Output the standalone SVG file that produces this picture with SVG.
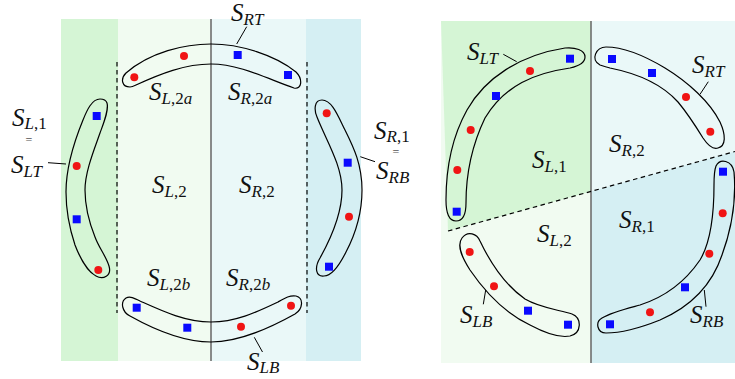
<svg xmlns="http://www.w3.org/2000/svg" width="735" height="379" viewBox="0 0 735 379">
<style>
.blob{fill:none;stroke:#000;stroke-width:1.2}
.r{fill:#f01414}
.b{fill:#0a0aff}
.lead{stroke:#000;stroke-width:1;fill:none}
.dash{stroke:#000;stroke-width:1.2;stroke-dasharray:4.5 3.5;fill:none}
.div{stroke:#666;stroke-width:1.5}
text{font-family:"Liberation Serif","DejaVu Serif",serif;font-style:italic;font-size:25px;fill:#111}
.sub{font-size:17px}
.up{font-style:normal}
.eq{font-style:normal;font-size:12px;fill:#555}
</style>
<defs>
<rect id="sq" x="-4" y="-4" width="8" height="8" class="b"/>
<circle id="dot" r="4" class="r"/>
</defs>

<!-- Left panel backgrounds -->
<g id="left-bg">
<rect x="61" y="19" width="57" height="342" fill="#d5f5d5"/>
<rect x="118" y="19" width="93" height="342" fill="#f1fbf1"/>
<rect x="211" y="19" width="95" height="342" fill="#eaf8f8"/>
<rect x="306" y="19" width="55" height="342" fill="#d5eff3"/>
<line class="div" x1="211" y1="19" x2="211" y2="361"/>
<line class="dash" x1="117" y1="62" x2="117" y2="313"/>
<line class="dash" x1="307" y1="62" x2="307" y2="313"/>
</g>

<!-- Right panel backgrounds -->
<g id="right-bg">
<rect x="441" y="21" width="150" height="342" fill="#f1fbf1"/>
<polygon points="441,21 591,21 591,191.5 448,231" fill="#d5f5d5"/>
<rect x="591" y="21" width="144" height="342" fill="#eaf8f8"/>
<polygon points="591,191.5 735,151.5 735,363 591,363" fill="#d5eff3"/>
<line class="div" x1="591" y1="21" x2="591" y2="363"/>
<line class="dash" x1="448" y1="231" x2="735" y2="151.5"/>
</g>

<!-- Left panel nodes -->
<g id="L-SRT">
<path class="blob" d="M130,87 C122,87 120,79 126,73 C150,52 185,44 211,44 C240,44 275,55 296,72 C303,79 302,90 294,88 C270,80 240,64 211,64 C185,64 160,74 136,85 C134,86 132,87 130,87 Z"/>
<use href="#dot" x="134.3" y="77.3"/><use href="#dot" x="184" y="56"/>
<use href="#sq" x="237.7" y="55"/><use href="#sq" x="288" y="75"/>
</g>
<g id="L-SLT">
<path class="blob" d="M100,99 C92,99 87,110 83,120 C74,142 66,170 66,192 C66,212 70,230 75,245 C80,258 88,272 96,276 C103,280 112,276 109,266 C106,256 99,248 95,237 C89,222 85,206 85,190 C85,172 94,150 100,133 C104,122 109,110 107,103 C106,100 103,99 100,99 Z"/>
<use href="#sq" x="96.7" y="116"/><use href="#dot" x="76.7" y="166"/>
<use href="#sq" x="76.7" y="219.3"/><use href="#dot" x="98.3" y="270"/>
</g>
<g id="L-SRB">
<path class="blob" d="M322,100 C314,100 314,110 317,117 C326,140 342,165 342,190 C342,215 330,240 320,258 C314,268 316,277 324,276 C332,276 340,264 346,252 C356,233 362,212 362,190 C362,165 354,148 345,130 C338,116 332,100 322,100 Z"/>
<use href="#dot" x="326.7" y="113.3"/><use href="#sq" x="347.7" y="162.7"/>
<use href="#dot" x="349" y="216.7"/><use href="#sq" x="329" y="266.7"/>
</g>
<g id="L-SLB">
<path class="blob" d="M126,298 C120,302 122,312 130,316 C155,330 185,342 211,342 C240,342 270,328 295,314 C303,309 304,298 296,296 C290,295 285,298 278,302 C255,313 235,322 211,322 C185,322 160,310 140,301 C134,298 130,296 126,298 Z"/>
<use href="#sq" x="136.7" y="307.7"/><use href="#sq" x="187.3" y="327.7"/>
<use href="#dot" x="241" y="326.7"/><use href="#dot" x="291" y="305.7"/>
</g>

<!-- Right panel nodes -->
<g id="R-SLT">
<path class="blob" d="M585,57 C585,50 575,47 565,48 C520,55 485,78 467,110 C452,137 446,170 446,200 C446,212 449,221 456,221 C464,221 466,212 466,203 C466,175 472,145 485,118 C505,85 535,73 570,68 C579,66 585,63 585,57 Z"/>
<use href="#sq" x="570" y="58.7"/><use href="#dot" x="530" y="71"/>
<use href="#sq" x="496" y="96"/><use href="#dot" x="470.7" y="130"/>
<use href="#dot" x="457.3" y="170"/><use href="#sq" x="456.7" y="211.7"/>
</g>
<g id="R-SRT">
<path class="blob" d="M600,65 C590,60 596,47 606,47 C625,47 645,56 665,68 C688,82 710,102 720,122 C726,135 726,146 718,148 C712,150 707,144 703,138 C695,125 688,114 678,102 C660,82 635,73 610,68 C606,67 603,66 600,65 Z"/>
<use href="#sq" x="612" y="59"/><use href="#sq" x="652" y="73"/>
<use href="#dot" x="686" y="97"/><use href="#dot" x="710.3" y="131.7"/>
</g>
<g id="R-SRB">
<path class="blob" d="M716,166 C720,158 732,160 734,172 C736,195 733,225 722,255 C712,285 692,306 660,320 C640,328 620,333 606,333 C597,333 595,322 602,318 C612,312 625,309 640,305 C665,297 685,282 700,260 C712,240 714,210 714,185 C714,177 714,171 716,166 Z"/>
<use href="#sq" x="723" y="171.7"/><use href="#dot" x="722.7" y="213.3"/>
<use href="#dot" x="709.3" y="253.7"/><use href="#sq" x="685" y="287.3"/>
<use href="#dot" x="650" y="312.3"/><use href="#sq" x="610" y="324.3"/>
</g>
<g id="R-SLB">
<path class="blob" d="M462,238 C468,230 477,234 480,241 C490,262 505,285 525,299 C540,308 560,310 572,314 C582,318 582,333 570,336 C560,338 545,333 530,325 C505,313 485,292 470,270 C463,259 456,246 462,238 Z"/>
<use href="#dot" x="469.7" y="252"/><use href="#dot" x="494" y="286.3"/>
<use href="#sq" x="528" y="310.7"/><use href="#sq" x="568" y="324.7"/>
</g>

<!-- Connectors (label leaders) -->
<g id="connectors">
<line class="lead" x1="246.7" y1="26.7" x2="236.7" y2="44"/>
<line class="lead" x1="48" y1="162.7" x2="66" y2="164"/>
<line class="lead" x1="360.3" y1="156.7" x2="375" y2="161.7"/>
<line class="lead" x1="254.3" y1="337.3" x2="262.5" y2="352"/>
<line class="lead" x1="503.3" y1="54.3" x2="516.7" y2="61.7"/>
<line class="lead" x1="700" y1="94.3" x2="708.3" y2="81.7"/>
<line class="lead" x1="485.7" y1="290" x2="483.3" y2="304.3"/>
<line class="lead" x1="704.3" y1="290" x2="706" y2="306.7"/>
</g>

<!-- Labels -->
<g id="labels">
<text x="231" y="21">S<tspan class="sub" dy="4">RT</tspan></text>
<text x="149" y="100">S<tspan class="sub" dy="4">L<tspan class="up">,2</tspan>a</tspan></text>
<text x="228" y="100">S<tspan class="sub" dy="4">R<tspan class="up">,2</tspan>a</tspan></text>
<text x="152" y="193">S<tspan class="sub" dy="4">L<tspan class="up">,2</tspan></tspan></text>
<text x="239" y="193">S<tspan class="sub" dy="4">R<tspan class="up">,2</tspan></tspan></text>
<text x="147" y="286">S<tspan class="sub" dy="4">L<tspan class="up">,2</tspan>b</tspan></text>
<text x="226" y="286">S<tspan class="sub" dy="4">R<tspan class="up">,2</tspan>b</tspan></text>
<text x="247" y="370">S<tspan class="sub" dy="3">LB</tspan></text>
<text x="12" y="126">S<tspan class="sub" dy="3">L<tspan class="up">,1</tspan></tspan></text>
<text class="eq" x="29" y="144" text-anchor="middle">=</text>
<text x="11" y="173">S<tspan class="sub" dy="4">LT</tspan></text>
<text x="374" y="139">S<tspan class="sub" dy="3">R<tspan class="up">,1</tspan></tspan></text>
<text class="eq" x="396" y="156" text-anchor="middle">=</text>
<text x="376" y="179">S<tspan class="sub" dy="4">RB</tspan></text>

<text x="467" y="60">S<tspan class="sub" dy="4">LT</tspan></text>
<text x="692" y="73">S<tspan class="sub" dy="4">RT</tspan></text>
<text x="532" y="168">S<tspan class="sub" dy="4">L<tspan class="up">,1</tspan></tspan></text>
<text x="609" y="152">S<tspan class="sub" dy="4">R<tspan class="up">,2</tspan></tspan></text>
<text x="537" y="242">S<tspan class="sub" dy="4">L<tspan class="up">,2</tspan></tspan></text>
<text x="619" y="228">S<tspan class="sub" dy="4">R<tspan class="up">,1</tspan></tspan></text>
<text x="460" y="323">S<tspan class="sub" dy="4">LB</tspan></text>
<text x="690" y="323">S<tspan class="sub" dy="4">RB</tspan></text>
</g>
</svg>
